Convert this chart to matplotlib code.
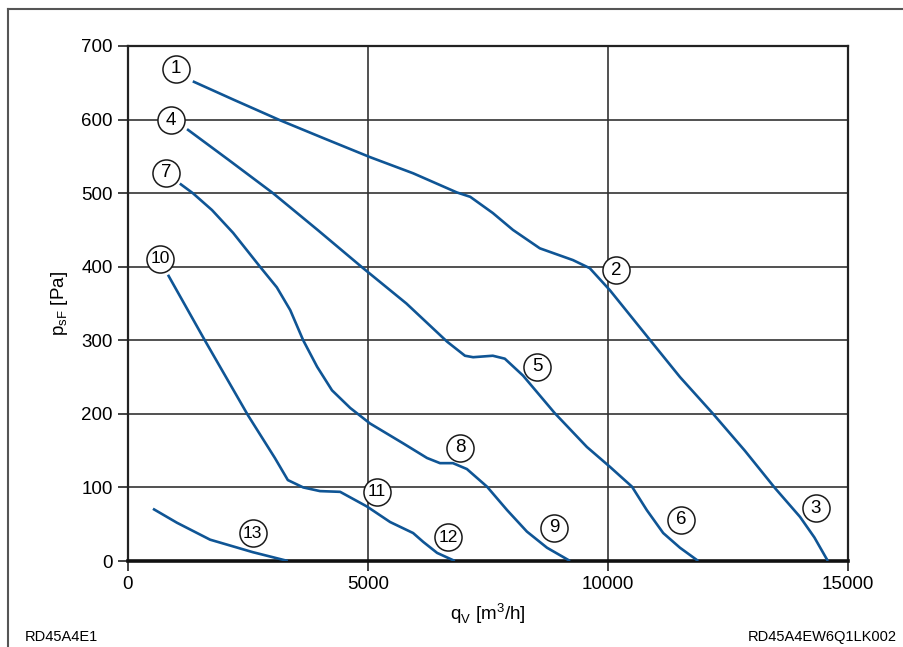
import matplotlib
matplotlib.use("Agg")
import matplotlib.pyplot as plt
from matplotlib.lines import Line2D

plt.rcParams['font.family'] = ['Liberation Sans', 'DejaVu Sans']

# Curve 1-2-3
q1 = [1350, 2200, 3170, 4100, 5040, 5940, 6850, 7130, 7600, 8020, 8580, 9270, 9620,
      10040, 10880, 11500, 12190, 12850, 13480, 14000, 14300, 14580]
p1 = [652, 627, 599, 574, 549, 527, 501, 495, 473, 450, 425, 409, 398,
      368, 300, 250, 200, 150, 99, 60, 32, 0]
# Curve 4-5-6
q2 = [1230, 2100, 3020, 3950, 4880, 5800, 6650, 7020, 7190, 7600, 7850, 8230, 8890,
      9560, 10040, 10500, 10810, 11150, 11500, 11880]
p2 = [587, 545, 500, 450, 399, 350, 298, 279, 277, 279, 275, 252, 201,
      155, 128, 101, 69, 38, 18, 0]
# Curve 7-8-9
q3 = [1080, 1350, 1750, 2190, 2750, 3100, 3380, 3650, 3940, 4250, 4630, 5040, 5730,
      6230, 6500, 6770, 7060, 7480, 7900, 8310, 8730, 9210]
p3 = [513, 500, 477, 446, 400, 372, 341, 300, 264, 232, 208, 187, 160,
      140, 133, 133, 125, 101, 69, 40, 18, 0]
# Curve 10-11-12
q4 = [833, 1600, 2500, 3060, 3330, 3650, 4000, 4420, 4980, 5460, 5940, 6150, 6440, 6810]
p4 = [389, 300, 198, 140, 110, 100, 95, 94, 74, 53, 38, 26, 11, 0]
# Curve 13
q5 = [520, 1020, 1710, 2600, 3330]
p5 = [71, 52, 29, 12, 0]

curves = [(q1, p1), (q2, p2), (q3, p3), (q4, p4), (q5, p5)]

# circled operating point labels
lab_text = ['1', '2', '3', '4', '5', '6', '7', '8', '9', '10', '11', '12', '13']
lab_q = [1000, 10170, 14330, 900, 8520, 11520, 790, 6920, 8880, 670, 5190, 6670, 2600]
lab_p = [669, 395, 72, 599, 264, 56, 528, 154, 45, 411, 94, 32, 38]

xticks = [0, 5000, 10000, 15000]
yticks = [0, 100, 200, 300, 400, 500, 600, 700]

fig = plt.figure(figsize=(9.04, 6.47), dpi=100)
ax = fig.add_axes([128 / 904, 1 - 561 / 647, 720 / 904, 515 / 647])

for q, p in curves:
    ax.plot(q, p, color='#0f5595', lw=1.9, solid_capstyle='butt',
            solid_joinstyle='round', zorder=3)

for t, q, p in zip(lab_text, lab_q, lab_p):
    ax.plot(q, p, 'o', ms=19.5, mfc='white', mec='#1a1a1a', mew=1.1, zorder=4)
    fs = 13.5 if len(t) == 1 else 12.5
    ax.text(q, p, t, ha='center', va='center', fontsize=fs, zorder=5)

ax.set_xlim(0, 15000)
ax.set_ylim(0, 700)
ax.set_xticks(xticks)
ax.set_yticks(yticks)
ax.set_xticklabels([str(v) for v in xticks])
ax.set_yticklabels([str(v) for v in yticks])
ax.tick_params(direction='out', length=7, width=1.2, color='#222222',
               labelsize=13.5, pad=4)
ax.grid(True, color='#333333', lw=1.2)
ax.set_axisbelow(True)
for s in ['top', 'right', 'left']:
    ax.spines[s].set_linewidth(1.6)
    ax.spines[s].set_color('#222222')
ax.spines['bottom'].set_linewidth(2.6)
ax.spines['bottom'].set_color('#111111')

ax.set_xlabel('q$_\\mathregular{V}$ [m$^\\mathregular{3}$/h]', fontsize=13.5, labelpad=6)
ax.set_ylabel('p$_\\mathregular{sF}$ [Pa]', fontsize=13.5, labelpad=8)

fig.text(25 / 904, 1 - 637 / 647, 'RD45A4E1', fontsize=10.5, ha='left', va='center')
fig.text(897 / 904, 1 - 637 / 647, 'RD45A4EW6Q1LK002', fontsize=10.5, ha='right', va='center')

# outer frame of the drawing
fig.add_artist(Line2D([7.5 / 904, 1], [1 - 8.5 / 647] * 2, transform=fig.transFigure,
                      color='#555555', lw=1.5))
fig.add_artist(Line2D([7.5 / 904] * 2, [0, 1 - 8.5 / 647], transform=fig.transFigure,
                      color='#555555', lw=1.5))

fig.savefig('out.png', dpi=100)
